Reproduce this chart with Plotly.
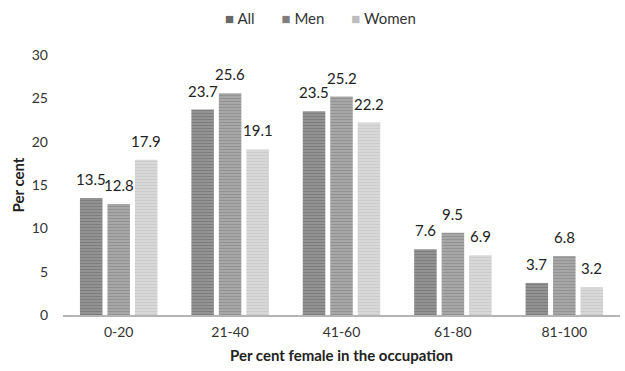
import plotly.graph_objects as go

categories = ["0-20", "21-40", "41-60", "61-80", "81-100"]
all_vals = [13.5, 23.7, 23.5, 7.6, 3.7]
men_vals = [12.8, 25.6, 25.2, 9.5, 6.8]
women_vals = [17.9, 19.1, 22.2, 6.9, 3.2]

series = [
    ("All", all_vals, "#939393", "#676767"),
    ("Men", men_vals, "#a7a7a7", "#7e7e7e"),
    ("Women", women_vals, "#d8d8d8", "#bdbdbd"),
]

font = "Lato, 'Open Sans', sans-serif"
fig = go.Figure()
for name, vals, bg, fg in series:
    fig.add_trace(go.Bar(
        name=name,
        x=categories,
        y=vals,
        showlegend=False,
        marker=dict(
            color=bg,
            line=dict(width=0),
            pattern=dict(shape="-", fgcolor=fg, bgcolor=bg, size=3, solidity=0.35),
        ),
    ))

# value labels above each bar, shifted to the bar's slot within the group
bar_step = 27.5
for k, (name, vals, bg, fg) in enumerate(series):
    for cat, v in zip(categories, vals):
        fig.add_annotation(
            x=cat, y=v, text=f"{v:.1f}", showarrow=False,
            xshift=(k - 1) * bar_step, yshift=8, yanchor="bottom",
            font=dict(size=15, color="#222222", family=font),
        )

# compact legend row across the top
legend_text = "&nbsp;&nbsp;&nbsp;&nbsp;&nbsp;&nbsp;&nbsp;".join(
    f"<span style='color:{fg}'>■</span> {name}" for name, vals, bg, fg in series
)
fig.add_annotation(
    x=0.463, y=1.0, xref="paper", yref="paper", yshift=37,
    text=legend_text, showarrow=False, xanchor="center", yanchor="middle",
    font=dict(size=15, color="#333333", family=font),
)

fig.update_layout(
    width=625, height=371,
    margin=dict(l=63, r=5, t=55, b=56),
    paper_bgcolor="white", plot_bgcolor="white",
    barmode="group", bargap=0.26, bargroupgap=0.18,
    font=dict(family=font, size=14, color="#333333"),
    xaxis=dict(
        showline=True, linecolor="#b5b5b5", linewidth=2,
        ticks="", tickfont=dict(size=14, color="#333333"),
        ticklabelstandoff=3,
        title=dict(text="<b>Per cent female in the occupation</b>",
                   font=dict(size=15, color="#222222"), standoff=12),
    ),
    yaxis=dict(
        range=[0, 30], dtick=5, showgrid=False, zeroline=False,
        showline=False, ticks="", tickfont=dict(size=14, color="#333333"),
        ticklabelstandoff=14,
        title=dict(text="<b>Per cent</b>", font=dict(size=15, color="#222222"), standoff=3),
    ),
)

fig.write_html("out.html")
